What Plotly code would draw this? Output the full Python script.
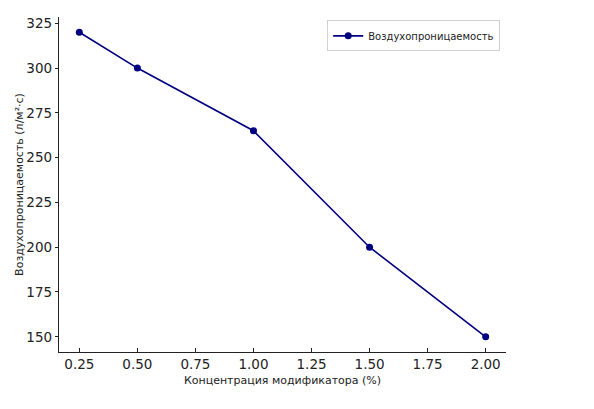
import plotly.graph_objects as go

# data
concentration = [0.25, 0.5, 1.0, 1.5, 2.0]
permeability = [320, 300, 265, 200, 150]
series_name = 'Воздухопроницаемость'
x_title = 'Концентрация модификатора (%)'
y_title = 'Воздухопроницаемость (л/м²·с)'
x_ticks = [0.25, 0.5, 0.75, 1.0, 1.25, 1.5, 1.75, 2.0]
y_ticks = [150, 175, 200, 225, 250, 275, 300, 325]

font = 'DejaVu Sans'

fig = go.Figure()
fig.add_scatter(x=concentration, y=permeability, name=series_name,
                mode='lines+markers',
                line=dict(color='#000080', width=1.6),
                marker=dict(color='#000080', size=7))

# page body adds ~8px offset, so margins are shifted to compensate
fig.update_layout(width=594, height=409,
                  margin=dict(l=51, r=96, t=9, b=65),
                  plot_bgcolor='white', paper_bgcolor='white',
                  font=dict(family=font, color='#222222'),
                  showlegend=True,
                  legend=dict(x=0.987, y=0.99, xanchor='right', yanchor='top',
                              bgcolor='white', bordercolor='#d0d0d0', borderwidth=1,
                              font=dict(size=10, family=font),
                              itemwidth=30, tracegroupgap=0),
                  )
fig.update_xaxes(range=[0.1625, 2.0875], tickvals=x_ticks,
                 ticktext=['%.2f' % v for v in x_ticks],
                 showline=True, linecolor='#222222', linewidth=1.3,
                 ticks='inside', ticklen=4, tickcolor='#222222',
                 showgrid=False, zeroline=False, automargin=False,
                 tickfont=dict(size=13.5),
                 title=dict(text=x_title, font=dict(size=11), standoff=4))
fig.update_yaxes(range=[141.5, 328.5], tickvals=y_ticks,
                 showline=True, linecolor='#222222', linewidth=1.3,
                 ticks='outside', ticklen=3, tickcolor='#222222',
                 showgrid=False, zeroline=False, automargin=False,
                 tickfont=dict(size=13.5),
                 title=dict(text=y_title, font=dict(size=11), standoff=0))

fig.write_html('out.html')
